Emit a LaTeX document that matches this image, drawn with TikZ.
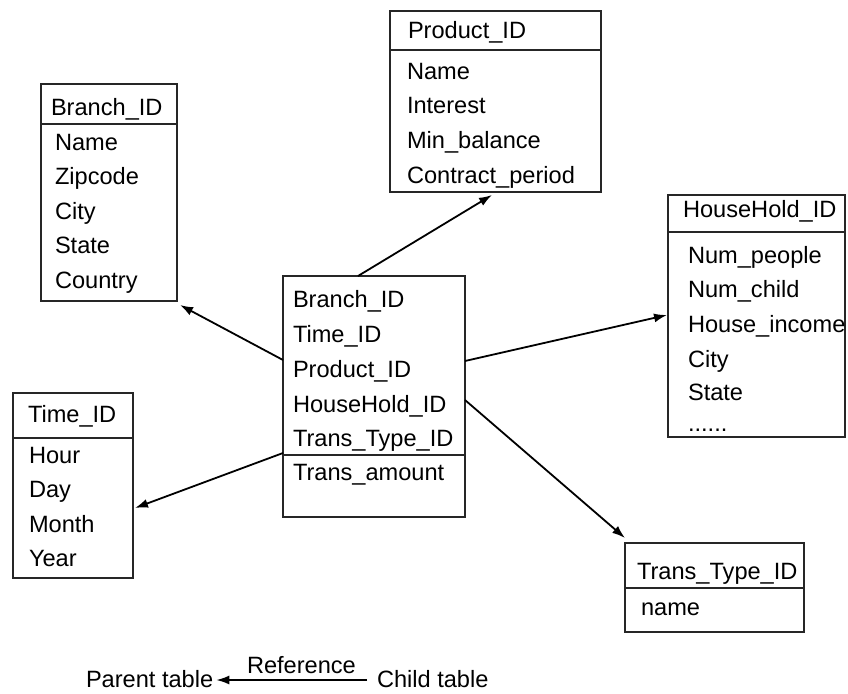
\documentclass[tikz,border=0pt]{standalone}
\usepackage{fontspec}
\setmainfont{Liberation Sans}
\usetikzlibrary{calc,arrows.meta}
\begin{document}
\begin{tikzpicture}[x=1pt,y=-1pt,
  tbl/.style={draw=black!85, line width=1.6pt, anchor=north west, inner sep=0pt, outer sep=0pt},
  sepline/.style={draw=black!85, line width=1.6pt},
  fld/.style={anchor=base west, inner sep=0pt, outer sep=0pt, font=\fontsize{23.6}{28}\selectfont},
  ref/.style={line width=1.8pt, -{Latex[length=13pt,width=9pt]}}]
\useasboundingbox (0,0) rectangle (848,693);

% ---- tables ----
\node[tbl, minimum width=136pt, minimum height=217pt] (branch) at (41,84) {};
\node[tbl, minimum width=182pt, minimum height=241pt] (fact) at (283,276) {};
\node[tbl, minimum width=211pt, minimum height=181pt] (product) at (390,11) {};
\node[tbl, minimum width=177pt, minimum height=242pt] (household) at (668,195) {};
\node[tbl, minimum width=120pt, minimum height=185pt] (time) at (13,393) {};
\node[tbl, minimum width=179pt, minimum height=89pt] (trans) at (625,543) {};

% header / key separators
\draw[sepline] ($(branch.north west)+(0,40)$) -- ($(branch.north east)+(0,40)$);
\draw[sepline] ($(fact.north west)+(0,179)$) -- ($(fact.north east)+(0,179)$);
\draw[sepline] ($(product.north west)+(0,39)$) -- ($(product.north east)+(0,39)$);
\draw[sepline] ($(household.north west)+(0,37)$) -- ($(household.north east)+(0,37)$);
\draw[sepline] ($(time.north west)+(0,45)$) -- ($(time.north east)+(0,45)$);
\draw[sepline] ($(trans.north west)+(0,45)$) -- ($(trans.north east)+(0,45)$);

% ---- Branch ----
\node[fld] (branch-h) at (51,115) {Branch\_ID};
\node[fld] (branch-1) at (55,150) {Name};
\node[fld] (branch-2) at (55,184.5) {Zipcode};
\node[fld] (branch-3) at (55,219) {City};
\node[fld] (branch-4) at (55,253.5) {State};
\node[fld] (branch-5) at (55,288) {Country};

% ---- fact table ----
\node[fld] (fact-1) at (293,307) {Branch\_ID};
\node[fld] (fact-2) at (293,342) {Time\_ID};
\node[fld] (fact-3) at (293,377) {Product\_ID};
\node[fld] (fact-4) at (293,412) {HouseHold\_ID};
\node[fld] (fact-5) at (293,446) {Trans\_Type\_ID};
\node[fld] (fact-6) at (293,480) {Trans\_amount};

% ---- Product ----
\node[fld] (product-h) at (408,39) {Product\_ID};
\node[fld] (product-1) at (407,79) {Name};
\node[fld] (product-2) at (407,113) {Interest};
\node[fld] (product-3) at (407,148) {Min\_balance};
\node[fld] (product-4) at (407,183) {Contract\_period};

% ---- HouseHold ----
\node[fld] (household-h) at (683,217) {HouseHold\_ID};
\node[fld] (household-1) at (688,263) {Num\_people};
\node[fld] (household-2) at (688,297) {Num\_child};
\node[fld] (household-3) at (688,332) {House\_income};
\node[fld] (household-4) at (688,367) {City};
\node[fld] (household-5) at (688,400) {State};
\node[fld] (household-6) at (688,431) {......};

% ---- Time ----
\node[fld] (time-h) at (28,422) {Time\_ID};
\node[fld] (time-1) at (29,463) {Hour};
\node[fld] (time-2) at (29,497) {Day};
\node[fld] (time-3) at (29,532) {Month};
\node[fld] (time-4) at (29,566) {Year};

% ---- Trans_Type ----
\node[fld] (trans-h) at (637,579) {Trans\_Type\_ID};
\node[fld] (trans-1) at (641,615) {name};

% ---- references (child -> parent) ----
\draw[ref] ($(fact.north west)+(75,0)$) -- ($(product.south west)+(102,3)$);
\draw[ref] ($(fact.north west)+(0,84)$) -- ($(branch.south east)+(3,4)$);
\draw[ref] ($(fact.north east)+(0,85)$) -- ($(household.north west)+(-1,120)$);
\draw[ref] ($(fact.north west)+(0,177)$) -- ($(time.north east)+(2,115)$);
\draw[ref] ($(fact.north east)+(0,124)$) -- ($(trans.north west)+(0,-5)$);

% ---- legend ----
\node[fld] (parent) at (86,687) {Parent table};
\node[fld] (child) at (377,687) {Child table};
\node[fld] (reflabel) at (247,673) {Reference};
\draw[ref] ($(child.base west)+(-10,-7)$) -- ($(parent.base east)+(3,-7)$);
\end{tikzpicture}
\end{document}
